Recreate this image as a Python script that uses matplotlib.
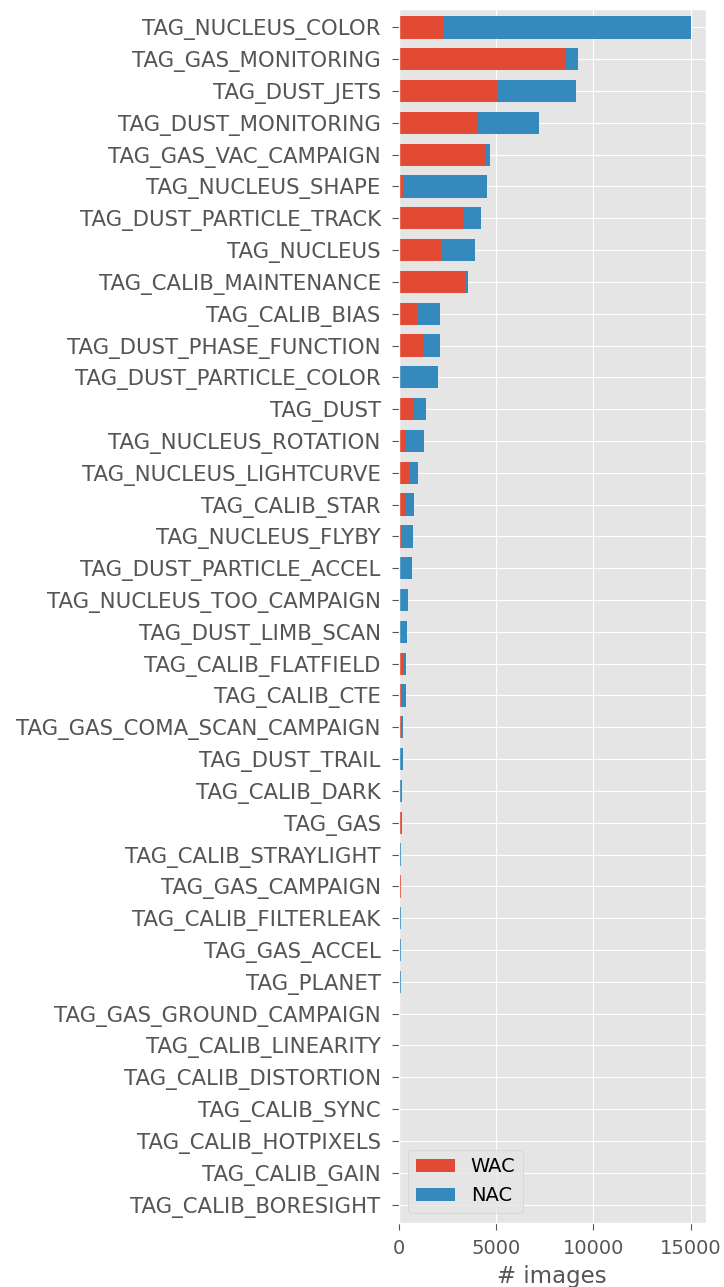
#!/usr/bin/env python
import numpy as np
import matplotlib
matplotlib.use('Agg')
import matplotlib.pyplot as plt

# image counts per tag, top to bottom
tags = ['TAG_NUCLEUS_COLOR', 'TAG_GAS_MONITORING', 'TAG_DUST_JETS',
  'TAG_DUST_MONITORING', 'TAG_GAS_VAC_CAMPAIGN', 'TAG_NUCLEUS_SHAPE',
  'TAG_DUST_PARTICLE_TRACK', 'TAG_NUCLEUS', 'TAG_CALIB_MAINTENANCE',
  'TAG_CALIB_BIAS', 'TAG_DUST_PHASE_FUNCTION', 'TAG_DUST_PARTICLE_COLOR',
  'TAG_DUST', 'TAG_NUCLEUS_ROTATION', 'TAG_NUCLEUS_LIGHTCURVE',
  'TAG_CALIB_STAR', 'TAG_NUCLEUS_FLYBY', 'TAG_DUST_PARTICLE_ACCEL',
  'TAG_NUCLEUS_TOO_CAMPAIGN', 'TAG_DUST_LIMB_SCAN', 'TAG_CALIB_FLATFIELD',
  'TAG_CALIB_CTE', 'TAG_GAS_COMA_SCAN_CAMPAIGN', 'TAG_DUST_TRAIL',
  'TAG_CALIB_DARK', 'TAG_GAS', 'TAG_CALIB_STRAYLIGHT', 'TAG_GAS_CAMPAIGN',
  'TAG_CALIB_FILTERLEAK', 'TAG_GAS_ACCEL', 'TAG_PLANET',
  'TAG_GAS_GROUND_CAMPAIGN', 'TAG_CALIB_LINEARITY', 'TAG_CALIB_DISTORTION',
  'TAG_CALIB_SYNC', 'TAG_CALIB_HOTPIXELS', 'TAG_CALIB_GAIN',
  'TAG_CALIB_BORESIGHT']
wac = [2300, 8570, 5100, 4060, 4470, 205, 3345, 2200, 3400, 1005,
  1260, 30, 770, 325, 560, 375, 100, 0, 0, 0, 255,
  170, 120, 50, 35, 170, 70, 135, 40, 10, 0,
  90, 0, 0, 0, 0, 0, 0]
nac = [12730, 630, 4010, 3160, 210, 4315, 885, 1710, 170, 1125,
  840, 1980, 630, 975, 410, 425, 635, 700, 480, 445, 135,
  205, 100, 155, 135, 0, 65, 0, 60, 110, 100,
  0, 80, 0, 0, 0, 0, 0]

if __name__ == '__main__':

  plt.style.use('ggplot')

  fig = plt.figure(figsize=(7.24, 12.87), dpi=100)
  ax = fig.add_axes([0.5507, 0.0500, 0.4243, 0.9428])

  ypos = np.arange(len(tags))
  ax.barh(ypos, wac, height=0.7, label='WAC')
  ax.barh(ypos, nac, height=0.7, left=wac, label='NAC')

  ax.set_yticks(ypos)
  ax.set_yticklabels(tags, fontsize=15.3)
  ax.set_ylim(len(tags) - 1 + 0.57, -0.57)
  ax.set_xticks([0, 5000, 10000, 15000])
  ax.tick_params(axis='y', length=5, pad=8)
  ax.tick_params(axis='x', labelsize=14, length=5, pad=7)
  ax.set_xlabel('# images', fontsize=16.5, labelpad=5)
  ax.legend(loc='lower left', fontsize=14)

  fig.savefig('out.png', dpi=100)
